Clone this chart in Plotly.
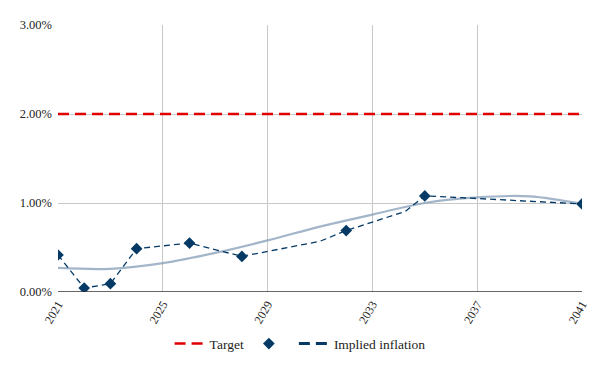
import plotly.graph_objects as go

# Implied inflation observations (year, % value)
marker_years = [2021.0, 2022.0, 2023.0, 2024.0, 2026.02, 2028.02, 2032.0, 2035.0, 2041.0]
marker_values = [0.416, 0.045, 0.093, 0.487, 0.55, 0.40, 0.69, 1.08, 0.99]

# Implied inflation line (includes unmarked points)
line_years = [2021.0, 2022.0, 2023.0, 2024.0, 2026.02, 2028.02, 2031.0, 2032.0, 2034.25, 2035.0, 2041.0]
line_values = [0.416, 0.045, 0.093, 0.487, 0.55, 0.40, 0.57, 0.69, 0.905, 1.08, 0.99]

# Trend line
trend_years = [2021, 2023, 2025, 2027, 2029, 2031, 2033, 2035, 2037, 2039, 2041]
trend_values = [0.27, 0.26, 0.325, 0.44, 0.58, 0.735, 0.87, 1.0, 1.063, 1.075, 0.99]

# Target
target_years = [2021, 2041]
target_values = [2.0, 2.0]

x_ticks = [2021, 2025, 2029, 2033, 2037, 2041]
y_ticks = [0, 1, 2, 3]

navy = "#053a66"
font_family = "Liberation Serif, DejaVu Serif, serif"

fig = go.Figure()

fig.add_trace(go.Scatter(
    x=target_years, y=target_values, mode="lines", name="Target",
    line=dict(color="#e00000", width=2.5, dash="11px,6px"),
))
fig.add_trace(go.Scatter(
    x=trend_years, y=trend_values, mode="lines", showlegend=False,
    line=dict(color="rgba(140,162,188,0.8)", width=2.2, shape="spline", smoothing=1.0),
    hoverinfo="skip",
))
fig.add_trace(go.Scatter(
    x=marker_years, y=marker_values, mode="markers", name="",
    marker=dict(symbol="diamond", size=9, color=navy),
))
fig.add_trace(go.Scatter(
    x=line_years, y=line_values, mode="lines", name="Implied inflation",
    line=dict(color=navy, width=1.3, dash="6px,4px"),
    showlegend=False, legendgroup="impl",
))
# Legend entry for the implied inflation line (thicker dash as in the original key)
fig.add_trace(go.Scatter(
    x=[None], y=[None], mode="lines", name="Implied inflation",
    line=dict(color=navy, width=3, dash="11px,6px"), legendgroup="impl",
))

fig.update_layout(
    width=592, height=363,
    margin=dict(l=50, r=18, t=17, b=79),
    paper_bgcolor="white", plot_bgcolor="white",
    font=dict(family=font_family, size=12, color="#222222"),
    showlegend=True,
    legend=dict(orientation="h", x=0.462, xanchor="center", y=-0.136, yanchor="top",
                font=dict(size=13.5), traceorder="normal"),
    xaxis=dict(
        range=[2021, 2041], tickvals=x_ticks, ticktext=[str(t) for t in x_ticks],
        tickangle=-60, showgrid=True, gridcolor="#c8c8c8", gridwidth=1,
        zeroline=False, showline=False, ticks="", tickfont=dict(size=12),
        ticklabelstandoff=2, automargin=False,
    ),
    yaxis=dict(
        range=[0, 3], tickvals=y_ticks, ticktext=[f"{v:.2f}%" for v in y_ticks],
        showgrid=True, gridcolor="#c8c8c8", gridwidth=1,
        zeroline=False, showline=False, ticks="", tickfont=dict(size=12.5),
        ticklabelstandoff=5, automargin=False,
    ),
    shapes=[dict(type="line", xref="paper", yref="y", x0=0, x1=1, y0=0, y1=0,
                 line=dict(color="#333333", width=1.3))],
)

fig.write_html("out.html")
